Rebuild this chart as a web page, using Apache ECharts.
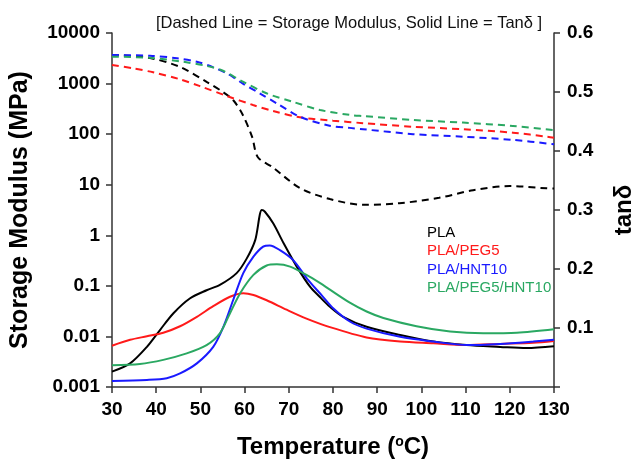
<!DOCTYPE html>
<html>
<head>
<meta charset="utf-8">
<script src="https://cdn.jsdelivr.net/npm/echarts@6/dist/echarts.min.js"></script>
<style>html,body{margin:0;padding:0;background:#fff}#c{width:633px;height:459px}</style>
</head>
<body>
<div id="c"></div>
<script>
// ---- Data ----
const seriesNames = ['PLA', 'PLA/PEG5', 'PLA/HNT10', 'PLA/PEG5/HNT10'];
const seriesColors = ['#000000', '#ff1a1a', '#1a1aff', '#2aa862'];

// Storage modulus (MPa), dashed, left log axis
const modPLA_T = [30, 38.6, 45.4, 51.5, 55.1, 57.4, 59.6, 61.7, 63.0, 66.4, 72.5, 79.3, 87, 95, 104, 111.7, 120, 128.3, 130];
const modPLA_V = [3670, 3200, 2130, 1070, 680, 473, 239, 88, 35, 22, 8.6, 5.2, 4.0, 4.3, 5.5, 7.8, 9.4, 8.5, 8.4];

const modPEG_T = [30, 34.8, 39.3, 45.4, 49.9, 56.0, 61.9, 66.4, 72.5, 80, 86.8, 98.1, 109.4, 120.7, 128.4, 130];
const modPEG_V = [2330, 2000, 1670, 1215, 890, 567, 377, 287, 215, 185, 165, 140, 125, 107, 89, 85];

const modHNT_T = [30, 38.6, 44.7, 49.2, 52.2, 56.0, 59.6, 63.5, 67.3, 72.5, 79, 83.8, 86.8, 98.1, 109.4, 120.7, 130];
const modHNT_V = [3670, 3550, 3170, 2700, 2220, 1590, 1000, 635, 405, 221, 148, 133, 125, 100, 89, 77, 63];

const modPH_T = [30, 38.6, 46.1, 51.5, 55.1, 59.6, 65.1, 70.9, 77.1, 83.8, 86.8, 98.1, 109.4, 120.7, 130];
const modPH_V = [3400, 3240, 2700, 2220, 1790, 1090, 635, 436, 300, 240, 228, 191, 169, 145, 120];

// tan delta, solid, right axis
const tanPLA_T = [30, 34.1, 37.9, 40.9, 43.9, 47.6, 51.4, 54.4, 58.2, 60.5, 62.4, 63.9, 64.6, 66.5, 68.8, 71.8, 74.8, 77.1, 79.3, 82.3, 87.6, 95.2, 102.7, 110.2, 117.8, 123.8, 130];
const tanPLA_V = [0.026, 0.040, 0.068, 0.097, 0.125, 0.150, 0.164, 0.173, 0.193, 0.218, 0.249, 0.300, 0.297, 0.277, 0.244, 0.204, 0.170, 0.152, 0.136, 0.119, 0.102, 0.088, 0.077, 0.071, 0.068, 0.066, 0.069];

const tanPEG_T = [30, 34.1, 37.9, 41.6, 45.4, 49.2, 52.9, 56.7, 59.7, 62.0, 65.0, 69.5, 74.0, 79.5, 87.6, 95.2, 102.7, 110.2, 117.8, 125.3, 130];
const tanPEG_V = [0.070, 0.080, 0.086, 0.092, 0.103, 0.119, 0.137, 0.153, 0.159, 0.156, 0.147, 0.131, 0.116, 0.101, 0.084, 0.077, 0.074, 0.071, 0.073, 0.075, 0.078];

const tanHNT_T = [30, 37.9, 42.4, 45.4, 49.2, 52.9, 55.2, 57.4, 59.7, 62.0, 64.2, 65.7, 68.0, 71.0, 74.4, 77.5, 80.1, 83.8, 87.6, 95.2, 102.7, 110.2, 117.8, 125.3, 130];
const tanHNT_V = [0.010, 0.012, 0.015, 0.023, 0.040, 0.068, 0.102, 0.147, 0.193, 0.221, 0.238, 0.240, 0.232, 0.215, 0.181, 0.155, 0.133, 0.111, 0.099, 0.085, 0.077, 0.071, 0.073, 0.077, 0.080];

const tanPH_T = [30, 36.3, 41.6, 46.9, 51.4, 54.4, 56.7, 59.0, 62.0, 65.0, 67.3, 70.3, 74.0, 77.1, 79.3, 83.8, 87.6, 91.4, 98.9, 106.5, 114.0, 121.6, 130];
const tanPH_V = [0.037, 0.039, 0.046, 0.057, 0.071, 0.091, 0.125, 0.159, 0.190, 0.206, 0.208, 0.204, 0.190, 0.176, 0.165, 0.143, 0.128, 0.117, 0.103, 0.094, 0.091, 0.092, 0.098];

const titleText = '[Dashed Line = Storage Modulus, Solid Line = Tan\u03b4 ]';

// ---- Build ----
const pair = (T, V) => T.map((t, i) => [t, V[i]]);
const modData = [pair(modPLA_T, modPLA_V), pair(modPEG_T, modPEG_V), pair(modHNT_T, modHNT_V), pair(modPH_T, modPH_V)];
const tanData = [pair(tanPLA_T, tanPLA_V), pair(tanPEG_T, tanPEG_V), pair(tanHNT_T, tanHNT_V), pair(tanPH_T, tanPH_V)];

const FONT = '"Liberation Sans", Arial, sans-serif';
const axisLineStyle = { color: '#333', width: 1.5 };
const tickLabel = { fontFamily: FONT, fontWeight: 'bold', fontSize: 19, color: '#000' };

const series = [];
modData.forEach((d, i) => series.push({
  name: seriesNames[i] + ' E\'', type: 'line', xAxisIndex: 0, yAxisIndex: 0, data: d,
  symbol: 'none', smooth: 0.3, lineStyle: { color: seriesColors[i], width: 2, type: [7, 5] }, z: 2
}));
tanData.forEach((d, i) => series.push({
  name: seriesNames[i], type: 'line', xAxisIndex: 0, yAxisIndex: 1, data: d,
  symbol: 'none', smooth: 0.3, lineStyle: { color: seriesColors[i], width: 2 }, z: 3
}));

const legendY = [234, 252, 271, 289];
const graphics = seriesNames.map((n, i) => ({
  type: 'text', left: 427, top: legendY[i] - 9,
  style: { text: n, fill: seriesColors[i], font: '15px ' + FONT }
}));

const chart = echarts.init(document.getElementById('c'), null, { renderer: 'canvas' });
chart.setOption({
  animation: false,
  backgroundColor: '#fff',
  title: {
    text: titleText, left: 344, top: 10, textAlign: 'center',
    textStyle: { fontFamily: FONT, fontWeight: 'normal', fontSize: 16.5, color: '#111' }
  },
  grid: { left: 112, right: 79, top: 33, bottom: 72, containLabel: false, outerBoundsMode: 'none' },
  xAxis: {
    type: 'value', min: 30, max: 130, interval: 10,
    axisLine: { show: true, onZero: false, lineStyle: axisLineStyle },
    axisTick: { show: true, inside: false, length: 6, lineStyle: axisLineStyle },
    splitLine: { show: false },
    axisLabel: Object.assign({ margin: 13 }, tickLabel),
    name: '{a|Temperature (}{s|o}{a|C)}', nameLocation: 'middle', nameGap: 48,
    nameTextStyle: {
      rich: {
        a: { fontFamily: FONT, fontWeight: 'bold', fontSize: 24, color: '#000' },
        s: { fontFamily: FONT, fontWeight: 'bold', fontSize: 14, color: '#000', verticalAlign: 'top', padding: [0, 0, 8, 0] }
      }
    }
  },
  yAxis: [{
    type: 'log', logBase: 10, min: 0.001, max: 10000,
    axisLine: { show: true, onZero: false, lineStyle: axisLineStyle },
    axisTick: { show: true, inside: false, length: 6, lineStyle: axisLineStyle },
    minorTick: { show: false },
    splitLine: { show: false },
    axisLabel: Object.assign({ margin: 12, formatter: v => String(Number(Number(v).toPrecision(6))) }, tickLabel),
    name: 'Storage Modulus (MPa)', nameLocation: 'middle', nameGap: 79,
    nameTextStyle: { fontFamily: FONT, fontWeight: 'bold', fontSize: 25, color: '#000' }
  }, {
    type: 'value', min: 0, max: 0.6, interval: 0.1, position: 'right',
    axisLine: { show: true, onZero: false, lineStyle: axisLineStyle },
    axisTick: { show: true, inside: false, length: 6, lineStyle: axisLineStyle },
    splitLine: { show: false },
    axisLabel: Object.assign({ margin: 13, formatter: v => (Math.abs(v) < 1e-9 ? '' : Number(v).toFixed(1)) }, tickLabel),
    name: 'tan\u03b4', nameLocation: 'middle', nameGap: 58,
    nameTextStyle: { fontFamily: FONT, fontWeight: 'bold', fontSize: 24, color: '#000' }
  }],
  graphic: graphics,
  series: series
});
</script>
</body>
</html>
